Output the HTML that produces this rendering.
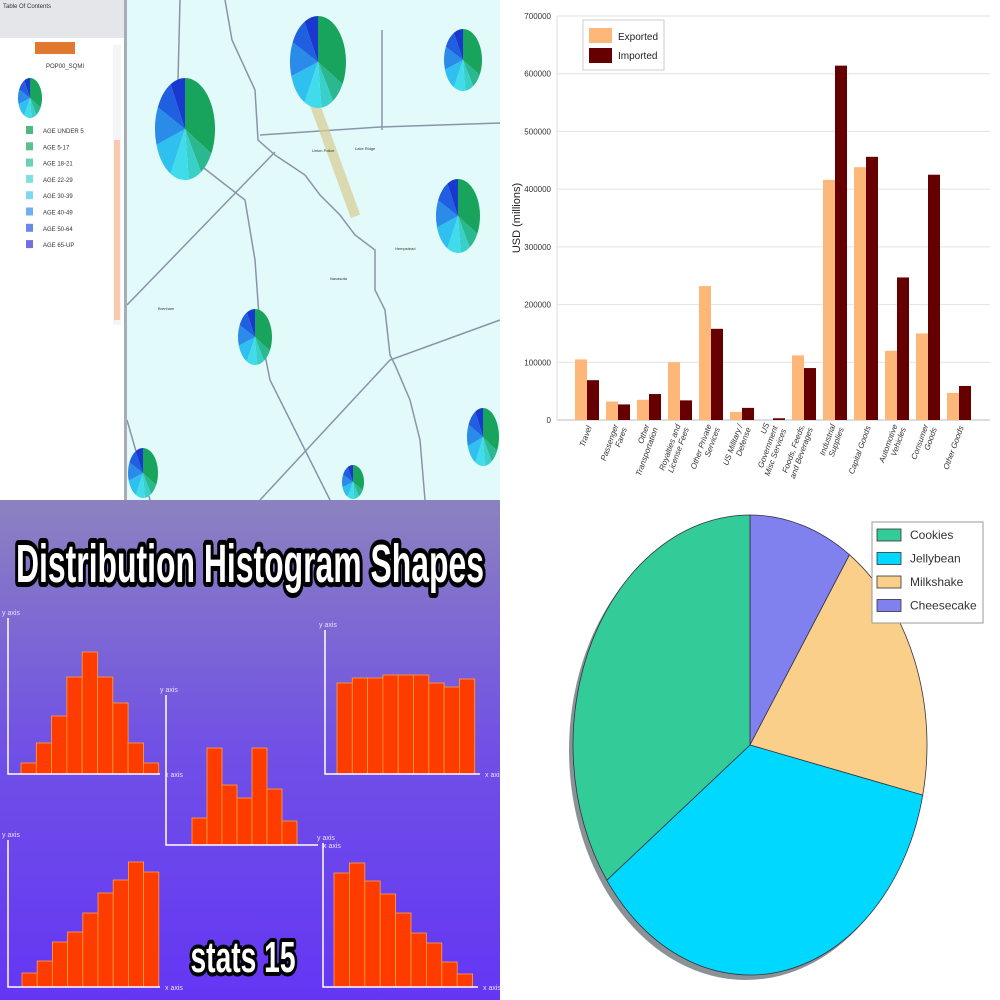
<!DOCTYPE html>
<html><head><meta charset="utf-8"><style>
html,body{margin:0;padding:0;width:1000px;height:1000px;overflow:hidden;background:#fff}
svg{display:block;font-family:"Liberation Sans",sans-serif}
</style></head><body>
<svg id="root" width="1000" height="1000" viewBox="0 0 1000 1000" xmlns="http://www.w3.org/2000/svg">
<defs>
<linearGradient id="hbg" x1="0" y1="0" x2="0" y2="1"><stop offset="0" stop-color="#8c82bf"/><stop offset="0.5" stop-color="#7050e6"/><stop offset="1" stop-color="#6436f4"/></linearGradient>
</defs>
<!-- MAP QUADRANT -->
<g id="map">
<rect x="0" y="0" width="500" height="500" fill="#e2fafa"/>
<g stroke="#8a94a8" stroke-width="1.5" fill="none">
<polyline points="225,0 232,40 255,90 258,140 275,155 305,175 320,195 340,215 355,235 375,250 375,290 385,310 390,355 395,365 410,400 420,440 425,500"/>
<polyline points="127,305 275,152"/>
<polyline points="260,135 380,127 500,123"/>
<polyline points="180,0 178,80"/>
<polyline points="382,30 382,130"/>
<polyline points="200,165 245,200 255,260 260,330 270,380 300,440 330,500"/>
<polyline points="260,500 390,360 500,320"/>
<polyline points="127,420 150,500"/>
</g>
<g fill="#d8cc90" opacity="0.7"><rect x="330" y="100" width="10" height="120" transform="rotate(-20 335 160)"/></g>
<g font-size="4" fill="#333"><text x="312" y="152">Union Police</text><text x="355" y="150">Lake Ridge</text><text x="158" y="310">Brenham</text><text x="330" y="280">Navasota</text><text x="395" y="250">Hempstead</text></g>
<rect x="0" y="0" width="124" height="500" fill="#fff"/>
<rect x="0" y="0" width="124" height="38" fill="#e4e6ea"/>
<text x="3" y="8" font-size="6" fill="#333">Table Of Contents</text>
<rect x="113" y="45" width="8" height="280" fill="#f5f5f5"/><rect x="114" y="140" width="6" height="180" fill="#f8c8b0"/>
<rect x="124" y="0" width="3" height="500" fill="#a8acb4"/>
<rect x="35" y="42" width="40" height="12" fill="#e07830"/>
<text x="46" y="68" font-size="6" fill="#333">POP00_SQMI</text>
<g id="tocleg"></g>
<g id="mappies"></g>
</g>
<!-- BAR CHART QUADRANT -->
<g id="bars">
<rect x="500" y="0" width="500" height="500" fill="#fff"/>
<g id="bgrid"></g><g id="bmarks"></g><g id="bxlab"></g>
<text transform="translate(520,218) rotate(-90)" font-size="11" text-anchor="middle" fill="#222">USD (millions)</text>
<g>
<rect x="583" y="20" width="81" height="50" fill="#fff" stroke="#ccc"/>
<rect x="589" y="28" width="23" height="15" fill="#fdb779"/>
<text x="618" y="40" font-size="10" fill="#222">Exported</text>
<rect x="589" y="48" width="23" height="15" fill="#660000"/>
<text x="618" y="59" font-size="10" fill="#222">Imported</text>
</g>
</g>
<!-- HISTOGRAM QUADRANT -->
<g id="hist">
<rect x="0" y="500" width="500" height="500" fill="url(#hbg)"/>
<text x="250" y="582" font-size="54" font-weight="bold" text-anchor="middle" textLength="468" lengthAdjust="spacingAndGlyphs" fill="#fff" stroke="#000" stroke-width="10" paint-order="stroke" stroke-linejoin="round" font-family="Liberation Sans Narrow, Liberation Sans, sans-serif">Distribution Histogram Shapes</text>
<g id="hmarks"></g>
<text x="243" y="972" font-size="44" font-weight="bold" text-anchor="middle" textLength="105" lengthAdjust="spacingAndGlyphs" fill="#fff" stroke="#000" stroke-width="8" paint-order="stroke" stroke-linejoin="round" font-family="Liberation Sans Narrow, Liberation Sans, sans-serif">stats 15</text>
</g>
<!-- PIE QUADRANT -->
<g id="pie">
<rect x="500" y="500" width="500" height="500" fill="#fff"/>
<ellipse cx="746" cy="750" rx="177" ry="230" fill="#8a9296"/>
<g id="pmarks"></g>
<g id="plegend">
<rect x="872" y="522" width="111" height="101" fill="#fff" stroke="#999"/>
</g>
</g>
</svg>
<script>
const NS="http://www.w3.org/2000/svg";
function mk(tag,attrs,parent){const e=document.createElementNS(NS,tag);for(const k in attrs)e.setAttribute(k,attrs[k]);parent.appendChild(e);return e;}

// ---- Bar chart data ----
const barCategories=["Travel","Passenger|Fares","Other|Transportation","Royalties and|License Fees","Other Private|Services","US Military /|Defense","US|Government|Misc Services","Foods, Feeds,|and Beverages","Industrial|Supplies","Capital Goods","Automotive|Vehicles","Consumer|Goods","Other Goods"];
const exportedValues=[105000,32000,35000,100000,232000,14000,0,112000,416000,438000,120000,150000,47000];
const importedValues=[69000,27000,45000,34000,158000,21000,3000,90000,614000,456000,247000,425000,59000];
const barTicks=[0,100000,200000,300000,400000,500000,600000,700000];

const yB=v=>420-v/700000*404;
const xB=i=>587+31*i;
const bg=document.getElementById('bgrid'),bm=document.getElementById('bmarks'),bx=document.getElementById('bxlab');
barTicks.forEach(t=>{
  const l=mk('line',{x1:557,x2:990,y1:yB(t),y2:yB(t),stroke:t===0?'#bbb':'#e2e2e2','stroke-width':1},bg);
  
  
  const tx=mk('text',{x:551,y:yB(t)+3,'font-size':8,'text-anchor':'end',fill:'#333'},bg);
  tx.textContent=t;
  
  
});
mk('line',{x1:557,x2:557,y1:16,y2:420,stroke:'#ddd'},bg);
barCategories.forEach((c,i)=>{
  const e=mk('rect',{x:xB(i)-12,y:yB(exportedValues[i]),width:12,height:420-yB(exportedValues[i]),fill:'#fdb779'},bm);
  
  
  const m=mk('rect',{x:xB(i),y:yB(importedValues[i]),width:12,height:420-yB(importedValues[i]),fill:'#660000'},bm);
  
  
  const lines=c.split('|');
  const g=mk('g',{transform:`translate(${xB(i)+2},426) rotate(-70)`},bx);
  
  
  lines.forEach((s,j)=>{
    const t=mk('text',{x:0,y:(j-(lines.length-1)/2)*9+3,'font-size':8,'text-anchor':'end',fill:'#333','font-style':'italic'},g);
    t.textContent=s;
  });
});

// ---- Histogram data ----
const histNormal=[11,31,58,97,122,97,71,31,11];
const histBimodal=[27,97,60,47,97,56,24];
const histUniform=[91,96,96,99,99,99,91,87,95];
const histLeftSkew=[14,26,45,55,74,94,107,125,115];
const histRightSkew=[114,124,106,93,74,54,44,25,13];
const hpanels=[
 {d:histNormal,ax:8,base:774,top:618,x0:21,bw:15.3,xend:160,name:'hist-normal'},
 {d:histBimodal,ax:166,base:845,top:695,x0:192,bw:15,xend:318,name:'hist-bimodal'},
 {d:histUniform,ax:325,base:774,top:630,x0:337,bw:15.3,xend:480,name:'hist-uniform'},
 {d:histLeftSkew,ax:8,base:987,top:840,x0:22,bw:15.2,xend:160,name:'hist-left-skew'},
 {d:histRightSkew,ax:323,base:987,top:843,x0:334,bw:15.4,xend:478,name:'hist-right-skew'}
];
const hm=document.getElementById('hmarks');
hpanels.forEach(p=>{
  const g=mk('g',{},hm);
  
  
  p.d.forEach((v,i)=>{
    const r=mk('rect',{x:p.x0+p.bw*i,y:p.base-v,width:p.bw,height:v,fill:'#ff3c00',stroke:'#ffa040','stroke-width':0.8},g);
    
    
  });
  mk('polyline',{points:`${p.ax},${p.top} ${p.ax},${p.base} ${p.xend},${p.base}`,fill:'none',stroke:'#fff','stroke-width':1.5},g);
  const ya=mk('text',{x:p.ax-6,y:p.top-3,'font-size':7,fill:'#e8e0ff'},g);ya.textContent='y axis';
  const xa=mk('text',{x:p.xend+5,y:p.base+3,'font-size':7,fill:'#e8e0ff'},g);xa.textContent='x axis';
});

// ---- Pie data ----
const pieLabels=["Cookies","Jellybean","Milkshake","Cheesecake"];
const pieValues=[35,36.5,19,9.5];
const pieColors=["#33cc99","#00d8ff","#f9cf8a","#8080ee"];
const pm=document.getElementById('pmarks');
const total=pieValues.reduce((a,b)=>a+b,0);
const cx=750,cy=745,rx=177,ry=230;
const pt=a=>[cx+rx*Math.sin(a),cy-ry*Math.cos(a)];
let ang=0;
for(let k=pieValues.length-1;k>=0;k--){
  const sw=pieValues[k]/total*2*Math.PI;
  const [x1,y1]=pt(ang),[x2,y2]=pt(ang+sw);
  const p=mk('path',{d:`M${cx},${cy} L${x1},${y1} A${rx},${ry} 0 ${sw>Math.PI?1:0} 1 ${x2},${y2} Z`,fill:pieColors[k],stroke:'#334','stroke-width':0.8},pm);
  
  
  ang+=sw;
}
const pl=document.getElementById('plegend');
pieLabels.forEach((l,i)=>{
  const y=529+i*23.5;
  mk('rect',{x:877,y:y,width:24,height:12,fill:pieColors[i],stroke:'#333','stroke-width':0.8},pl);
  const t=mk('text',{x:910,y:y+10,'font-size':12,fill:'#333'},pl);
  t.textContent=l;
  
  
});

// ---- Map pies ----
const mapPieFractions=[0.33,0.08,0.07,0.1,0.12,0.12,0.1,0.08];
const mapPieColors=["#18a45c","#2ab890","#38d0c8","#40dceb","#30c0f0","#2a8ce8","#2060e0","#1838d0"];
const mapPies=[[185,129,30,51],[318,62,28,46],[463,60,19,31],[458,216,22,37],[255,337,17,28],[483,437,16,29],[143,473,15,25],[353,482,11,17],[30,98,12,20]];
const mp=document.getElementById('mappies');
mapPies.forEach(([px,py,prx,pry])=>{
  const g=mk('g',{},mp);
  
  
  let a=0;
  mapPieFractions.forEach((f,k)=>{
    const sw=f*2*Math.PI;
    const x1=px+prx*Math.sin(a),y1=py-pry*Math.cos(a),x2=px+prx*Math.sin(a+sw),y2=py-pry*Math.cos(a+sw);
    mk('path',{d:`M${px},${py} L${x1},${y1} A${prx},${pry} 0 ${sw>Math.PI?1:0} 1 ${x2},${y2} Z`,fill:mapPieColors[k]},g);
    a+=sw;
  });
});
const tocLabels=["AGE UNDER 5","AGE 5-17","AGE 18-21","AGE 22-29","AGE 30-39","AGE 40-49","AGE 50-64","AGE 65-UP"];
const tocColors=["#50b880","#5cc090","#6cd0b8","#80e0e0","#80d8f0","#70b0f0","#6a88e8","#7070e0"];
const tl=document.getElementById('tocleg');
tocLabels.forEach((l,i)=>{
  const y=126+i*16.3;
  mk('rect',{x:26,y:y,width:7,height:8,fill:tocColors[i]},tl);
  const t=mk('text',{x:43,y:y+7,'font-size':6,fill:'#333'},tl);
  t.textContent=l;
  
  
});
</script>
</body></html>
